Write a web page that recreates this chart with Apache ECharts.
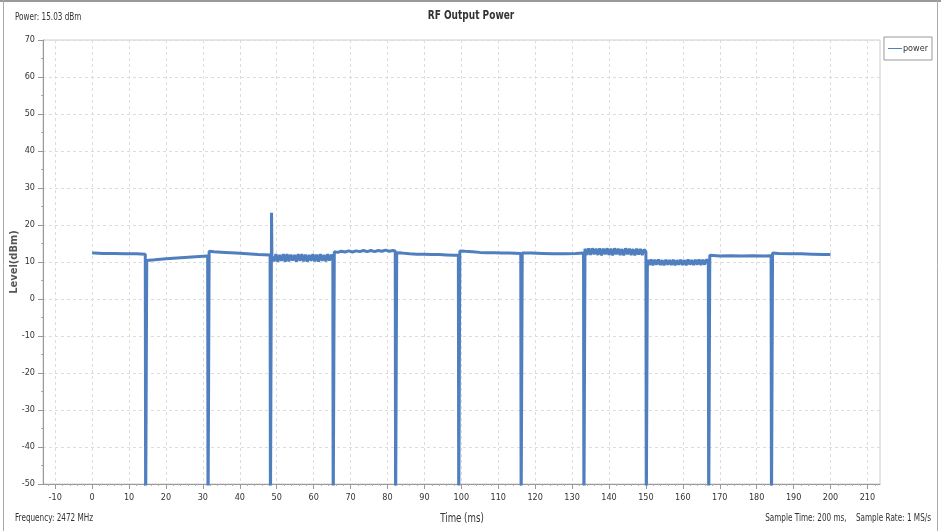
<!DOCTYPE html>
<html>
<head>
<meta charset="utf-8">
<script src="https://cdn.jsdelivr.net/npm/echarts@6/dist/echarts.min.js"></script>
<style>
html,body{margin:0;padding:0;background:#fff;}
#chart{width:941px;height:531px;}
</style>
</head>
<body>
<div id="chart"></div>
<script>
// ---- tick labels ----
const xTickValues = [-10, 0, 10, 20, 30, 40, 50, 60, 70, 80, 90, 100, 110, 120, 130, 140, 150, 160, 170, 180, 190, 200, 210];
const yTickValues = [-50, -40, -30, -20, -10, 0, 10, 20, 30, 40, 50, 60, 70];

// ---- power trace (time ms, level dBm), read segment by segment ----
const seg0 = [[0,12.5],[0.6,12.4],[3,12.3],[6,12.3],[9,12.2],[12,12.2],[14.4,12.1]];
const drop0 = [[14.5,-60],[14.7,-60]];
const seg1 = [[14.8,10.4],[17,10.6],[20,10.9],[23,11.1],[26,11.3],[29,11.5],[31.3,11.6]];
const drop1 = [[31.4,-60],[31.6,-60]];
const seg2 = [[31.7,12.9],[33,12.8],[36,12.6],[39,12.4],[42,12.2],[45,12.0],[48.2,11.9]];
const drop2 = [[48.3,-60],[48.5,-60]];
const spike = [[48.6,23.3],[48.7,11.6]];
const seg3 = [[48.8,12.1],[49.3,10.2],[49.8,12.1],[50.3,10.1],[50.8,11.9],[51.3,10.3],[51.8,12.1],[52.3,10.1],[52.8,12.1],[53.3,10.2],[53.8,12.0],[54.3,10.4],[54.8,11.9],[55.3,10.1],[55.8,12.1],[56.3,10.3],[56.8,12.1],[57.3,10.2],[57.8,12.0],[58.3,10.1],[58.8,11.9],[59.3,10.3],[59.8,12.1],[60.3,10.2],[60.8,12.0],[61.3,10.1],[61.8,12.1],[62.3,10.3],[62.8,11.9],[63.3,10.2],[63.8,12.1],[64.3,10.4],[64.8,12.0],[65.2,11.2]];
const drop3 = [[65.3,-60],[65.5,-60]];
const seg4 = [[65.6,12.8],[66.5,12.6],[67.5,12.9],[68.5,12.7],[69.5,13.0],[70.5,12.7],[71.5,13.0],[72.5,12.8],[73.5,13.1],[74.5,12.8],[75.5,13.1],[76.5,12.8],[77.5,13.1],[78.5,12.9],[79.5,13.2],[80.5,12.9],[81.5,13.1],[82.1,13.0]];
const drop4 = [[82.2,-60],[82.4,-60]];
const seg5 = [[82.5,12.5],[84,12.4],[86,12.2],[88,12.1],[90,12.1],[92,12.0],[94,12.0],[96,11.9],[98,11.8],[99.2,11.8]];
const drop5 = [[99.3,-60],[99.5,-60]];
const seg6 = [[99.6,13.0],[101,12.9],[103,12.8],[105,12.6],[107,12.5],[109,12.5],[111,12.4],[113,12.4],[116.1,12.3]];
const drop6 = [[116.2,-60],[116.4,-60]];
const seg7 = [[116.5,12.4],[119,12.4],[122,12.3],[125,12.2],[128,12.2],[131,12.3],[133.1,12.4]];
const drop7 = [[133.2,-60],[133.4,-60]];
const seg8 = [[133.5,13.6],[134,11.9],[134.5,13.7],[135,11.9],[135.5,13.7],[136,12.1],[136.5,13.6],[137,11.9],[137.5,13.7],[138,11.8],[138.5,13.6],[139,12.1],[139.5,13.7],[140,11.9],[140.5,13.6],[141,11.8],[141.5,13.7],[142,12.1],[142.5,13.6],[143,11.9],[143.5,13.5],[144,11.8],[144.5,13.7],[145,12.1],[145.5,13.6],[146,11.9],[146.5,13.5],[147,11.8],[147.5,13.6],[148,12.0],[148.5,13.5],[149,11.9],[149.5,13.4],[150,12.8]];
const drop8 = [[150.1,-60],[150.3,-60]];
const seg9 = [[150.4,10.6],[150.9,9.2],[151.4,10.7],[151.9,9.1],[152.4,10.6],[152.9,9.3],[153.4,10.7],[153.9,9.2],[154.4,10.5],[154.9,9.1],[155.4,10.6],[155.9,9.3],[156.4,10.5],[156.9,9.2],[157.4,10.6],[157.9,9.1],[158.4,10.5],[158.9,9.3],[159.4,10.6],[159.9,9.2],[160.4,10.5],[160.9,9.1],[161.4,10.7],[161.9,9.3],[162.4,10.5],[162.9,9.2],[163.4,10.6],[163.9,9.3],[164.4,10.7],[164.9,9.2],[165.4,10.6],[165.9,9.3],[166.4,10.7],[166.9,10.0]];
const drop9 = [[167.0,-60],[167.2,-60]];
const seg10 = [[167.3,11.8],[170,11.6],[173,11.7],[176,11.6],[179,11.7],[182,11.6],[183.9,11.7]];
const drop10 = [[184.0,-60],[184.2,-60]];
const seg11 = [[184.3,12.4],[186,12.3],[189,12.2],[192,12.2],[195,12.1],[198,12.0],[200,12.0]];

const powerTrace = [].concat(seg0, drop0, seg1, drop1, seg2, drop2, spike, seg3, drop3, seg4, drop4,
  seg5, drop5, seg6, drop6, seg7, drop7, seg8, drop8, seg9, drop9, seg10, drop10, seg11);

const xMinorTicks = [-12];
for (let i = 0; i < xTickValues.length; i++) {
  for (let k = 2; k < 10; k += 2) {
    const v = xTickValues[i] + k;
    if (v < 213) xMinorTicks.push(v);
  }
}

const FONT = "'DejaVu Sans Condensed', 'DejaVu Sans', sans-serif";
const chart = echarts.init(document.getElementById('chart'), null, {renderer: 'canvas'});

function label(text, x, y, size, weight, align, sx, rot) {
  return {
    type: 'text', x: x, y: y, scaleX: sx, rotation: rot || 0, z: 10,
    style: {text: text, font: weight + ' ' + size + 'px ' + FONT, fill: '#333',
            align: align || 'left', verticalAlign: 'middle'}
  };
}

chart.setOption({
  animation: false,
  backgroundColor: '#fff',
  legend: {
    right: 9, top: 37,
    orient: 'vertical',
    borderColor: '#999', borderWidth: 1, padding: [7, 4, 7, 4],
    itemWidth: 14, itemHeight: 1, itemGap: 0,
    icon: 'rect',
    textStyle: {fontFamily: FONT, fontSize: 9, color: '#333', padding: [0, 0, 0, -4]},
    data: ['power']
  },
  grid: {
    left: 43, right: 61, top: 40, bottom: 47,
    show: true, borderColor: '#ccc', borderWidth: 1, containLabel: false,
    outerBoundsMode: 'none'
  },
  xAxis: [{
    type: 'value', min: -13.3, max: 213.4,
    axisLine: {show: true, onZero: false, lineStyle: {color: '#999'}},
    axisTick: {show: true, inside: false, length: 5, customValues: xTickValues, lineStyle: {color: '#999'}},
    axisLabel: {customValues: xTickValues, margin: 9, fontFamily: FONT, fontSize: 9, color: '#333'},
    splitLine: {show: true, lineStyle: {color: '#ddd', type: [3, 3]}}
  }, {
    type: 'value', min: -13.3, max: 213.4, position: 'bottom',
    axisLine: {show: false, onZero: false},
    axisTick: {show: true, inside: false, length: 2, customValues: xMinorTicks, lineStyle: {color: '#aaa'}},
    axisLabel: {show: false},
    splitLine: {show: false}
  }],
  yAxis: {
    type: 'value', min: -50, max: 70, interval: 10,
    axisLine: {show: true, onZero: false, lineStyle: {color: '#999'}},
    axisTick: {show: true, length: 5, lineStyle: {color: '#999'}},
    minorTick: {show: true, splitNumber: 2, length: 2, lineStyle: {color: '#aaa'}},
    axisLabel: {margin: 8, fontFamily: FONT, fontSize: 9, color: '#333'},
    splitLine: {show: true, lineStyle: {color: '#ddd', type: [3, 3]}}
  },
  series: [{
    name: 'power', type: 'line', data: powerTrace,
    showSymbol: false, symbol: 'none', clip: true,
    lineStyle: {color: '#4f7fbf', width: 3, join: 'bevel'},
    itemStyle: {color: '#4f7fbf'}
  }],
  graphic: [
    {type: 'line', shape: {x1: 0, y1: 1, x2: 941, y2: 1}, style: {stroke: '#999', lineWidth: 2}},
    {type: 'line', shape: {x1: 3.5, y1: 0, x2: 3.5, y2: 531}, style: {stroke: '#aaa', lineWidth: 1}},
    {type: 'line', shape: {x1: 937.5, y1: 0, x2: 937.5, y2: 531}, style: {stroke: '#aaa', lineWidth: 1}},
    label('RF Output Power', 471, 16, 13, 'bold', 'center', 0.77),
    label('Power: 15.03 dBm', 15, 17, 10.5, 'normal', 'left', 0.77),
    label('Frequency: 2472 MHz', 15, 518, 10.5, 'normal', 'left', 0.77),
    label('Sample Time: 200 ms,    Sample Rate: 1 MS/s', 931, 518, 10.5, 'normal', 'right', 0.77),
    label('Time (ms)', 462, 519, 12, 'normal', 'center', 0.8),
    {type: 'text', x: 14, y: 262, rotation: Math.PI / 2, z: 10,
     style: {text: 'Level(dBm)', font: 'bold 11px ' + FONT, fill: '#555', align: 'center', verticalAlign: 'middle'}}
  ]
});
</script>
</body>
</html>
